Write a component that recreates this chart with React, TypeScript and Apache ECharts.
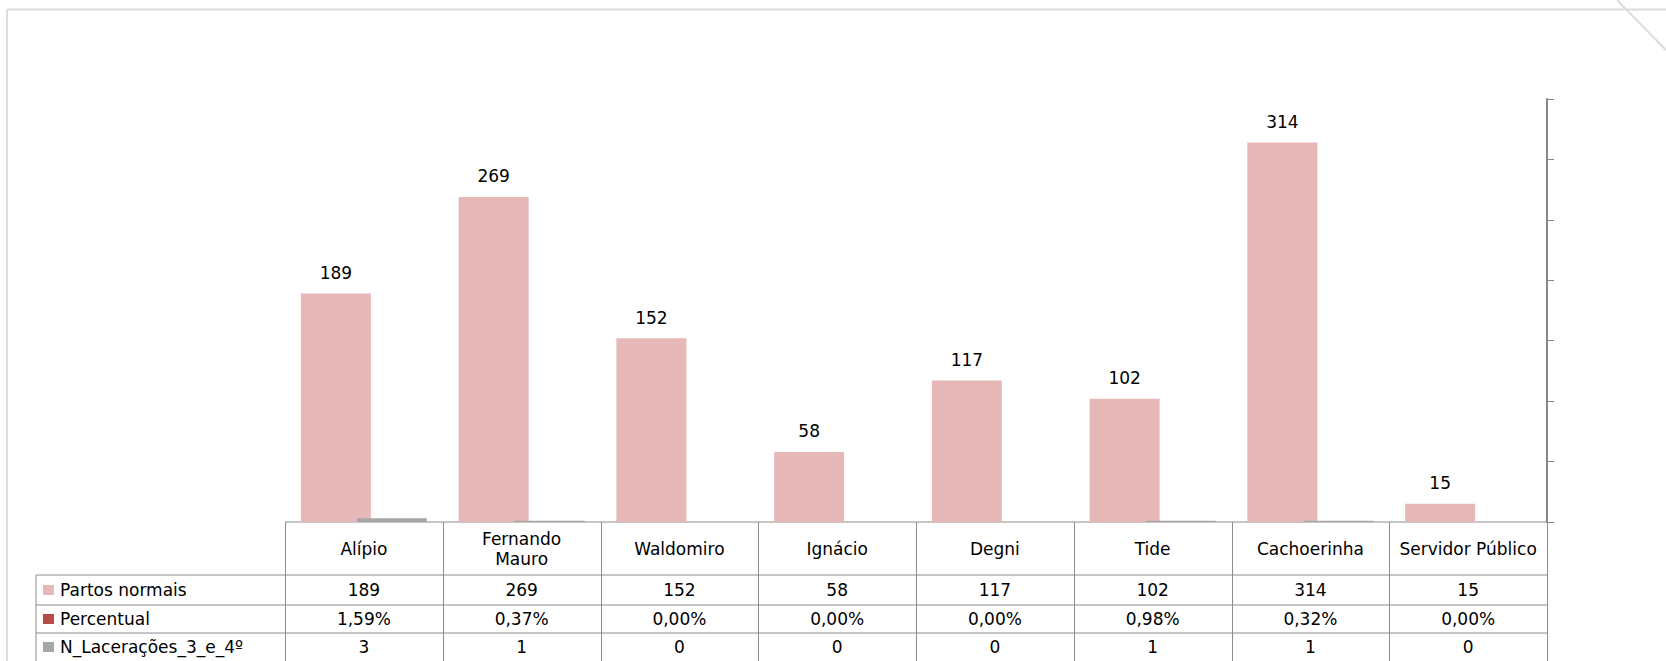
import React, { useEffect, useRef } from "react";
import * as echarts from "echarts";

const categories = [
  "Alípio",
  "Fernando\nMauro",
  "Waldomiro",
  "Ignácio",
  "Degni",
  "Tide",
  "Cachoerinha",
  "Servidor Público",
];
const seriesNames = ["Partos normais", "Percentual", "N_Lacerações_3_e_4º"];
const partosNormais = [189, 269, 152, 58, 117, 102, 314, 15];
const percentual = [1.59, 0.37, 0.0, 0.0, 0.0, 0.98, 0.32, 0.0]; // in %
const nLaceracoes = [3, 1, 0, 0, 0, 1, 1, 0];
const seriesColors = ["#E6B8B7", "#B84A48", "#A6A6A6"];
const yMin = 0;
const yMax = 350;
const yInterval = 50;

const FONT = "'DejaVu Sans', 'Noto Sans', sans-serif";

export default function App() {
  const ref = useRef<HTMLDivElement>(null);

  useEffect(() => {
    if (!ref.current) return;
    const chart = echarts.init(ref.current, undefined, { renderer: "svg" });

    const gridLeft = 285;
    const gridTop = 99;
    const gridWidth = 1262;
    const gridHeight = 423;
    const gridBottomY = gridTop + gridHeight; // 522
    const colW = gridWidth / categories.length;
    const tableRight = gridLeft + gridWidth;
    const legendLeft = 36;
    const rowLines = [575, 605, 633];
    const rowBottom = 661;
    const lineColor = "#8C8C8C";

    const rowTexts: string[][] = [
      partosNormais.map((v) => String(v)),
      percentual.map((v) => v.toFixed(2).replace(".", ",") + "%"),
      nLaceracoes.map((v) => String(v)),
    ];
    const rowCenters = [
      (rowLines[0] + rowLines[1]) / 2,
      (rowLines[1] + rowLines[2]) / 2,
      (rowLines[2] + rowBottom) / 2,
    ];

    const graphics: any[] = [];
    // slide frame
    graphics.push(
      { type: "line", shape: { x1: 7, y1: 9.5, x2: 1666, y2: 9.5 }, style: { stroke: "#DCDCDC", lineWidth: 2 }, silent: true },
      { type: "line", shape: { x1: 7, y1: 9.5, x2: 7, y2: 661 }, style: { stroke: "#DCDCDC", lineWidth: 2 }, silent: true },
      { type: "line", shape: { x1: 1617, y1: 0, x2: 1666, y2: 50 }, style: { stroke: "#DCDCDC", lineWidth: 2 }, silent: true }
    );
    // table lines
    graphics.push({
      type: "line",
      shape: { x1: gridLeft, y1: gridBottomY, x2: tableRight, y2: gridBottomY },
      style: { stroke: lineColor, lineWidth: 1 },
      silent: true,
    });
    rowLines.forEach((y) => {
      graphics.push({
        type: "line",
        shape: { x1: legendLeft, y1: y, x2: tableRight, y2: y },
        style: { stroke: lineColor, lineWidth: 1 },
        silent: true,
      });
    });
    for (let i = 0; i <= categories.length; i++) {
      const x = Math.round(gridLeft + i * colW) + 0.5;
      graphics.push({
        type: "line",
        shape: { x1: x, y1: gridBottomY, x2: x, y2: rowBottom },
        style: { stroke: lineColor, lineWidth: 1 },
        silent: true,
      });
    }
    graphics.push({
      type: "line",
      shape: { x1: legendLeft, y1: rowLines[0], x2: legendLeft, y2: rowBottom },
      style: { stroke: lineColor, lineWidth: 1 },
      silent: true,
    });
    // header texts
    categories.forEach((c, i) => {
      graphics.push({
        type: "text",
        x: gridLeft + (i + 0.5) * colW,
        y: (gridBottomY + rowLines[0]) / 2,
        silent: true,
        style: {
          text: c,
          fontSize: 17,
          fontFamily: FONT,
          fill: "#000",
          lineHeight: 20,
          textAlign: "center",
          textVerticalAlign: "middle",
          align: "center",
          verticalAlign: "middle",
        },
      });
    });
    // rows
    rowTexts.forEach((row, r) => {
      graphics.push({
        type: "rect",
        shape: { x: 43, y: rowCenters[r] - 5, width: 11, height: 10 },
        style: { fill: seriesColors[r] },
        silent: true,
      });
      graphics.push({
        type: "text",
        x: 60,
        y: rowCenters[r],
        silent: true,
        style: {
          text: seriesNames[r],
          fontSize: 17,
          fontFamily: FONT,
          fill: "#000",
          textAlign: "left",
          textVerticalAlign: "middle",
          align: "left",
          verticalAlign: "middle",
        },
      });
      row.forEach((t, i) => {
        graphics.push({
          type: "text",
          x: gridLeft + (i + 0.5) * colW,
          y: rowCenters[r],
          silent: true,
          style: {
            text: t,
            fontSize: 17,
            fontFamily: FONT,
            fill: "#000",
            textAlign: "center",
            textVerticalAlign: "middle",
            align: "center",
            verticalAlign: "middle",
          },
        });
      });
    });

    chart.setOption({
      animation: false,
      backgroundColor: "#FFFFFF",
      textStyle: { fontFamily: FONT },
      grid: { left: gridLeft, top: gridTop, width: gridWidth, height: gridHeight, containLabel: false },
      xAxis: {
        type: "category",
        data: categories,
        axisLine: { show: false },
        axisTick: { show: false },
        axisLabel: { show: false },
        splitLine: { show: false },
      },
      yAxis: {
        type: "value",
        position: "right",
        min: yMin,
        max: yMax,
        interval: yInterval,
        axisLine: { show: true, lineStyle: { color: "#868686", width: 2 } },
        axisTick: { show: true, inside: false, length: 7, lineStyle: { color: "#868686", width: 1 } },
        axisLabel: { show: false },
        splitLine: { show: false },
      },
      series: [
        {
          name: seriesNames[0],
          type: "bar",
          data: partosNormais,
          barWidth: 70,
          barGap: "-60%",
          itemStyle: { color: seriesColors[0] },
          label: {
            show: true,
            position: "top",
            distance: 12,
            fontSize: 17,
            fontFamily: FONT,
            color: "#000",
          },
        },
        {
          name: seriesNames[1],
          type: "bar",
          data: percentual.map((v) => v / 100),
          barWidth: 70,
          barGap: "-60%",
          itemStyle: { color: seriesColors[1] },
        },
        {
          name: seriesNames[2],
          type: "bar",
          data: nLaceracoes,
          barWidth: 70,
          barGap: "-60%",
          itemStyle: { color: seriesColors[2] },
        },
      ],
      graphic: { elements: graphics },
    });

    return () => chart.dispose();
  }, []);

  return (
    <div
      ref={ref}
      style={{ position: "fixed", left: 0, top: 0, width: 1666, height: 661, background: "#fff" }}
    />
  );
}
